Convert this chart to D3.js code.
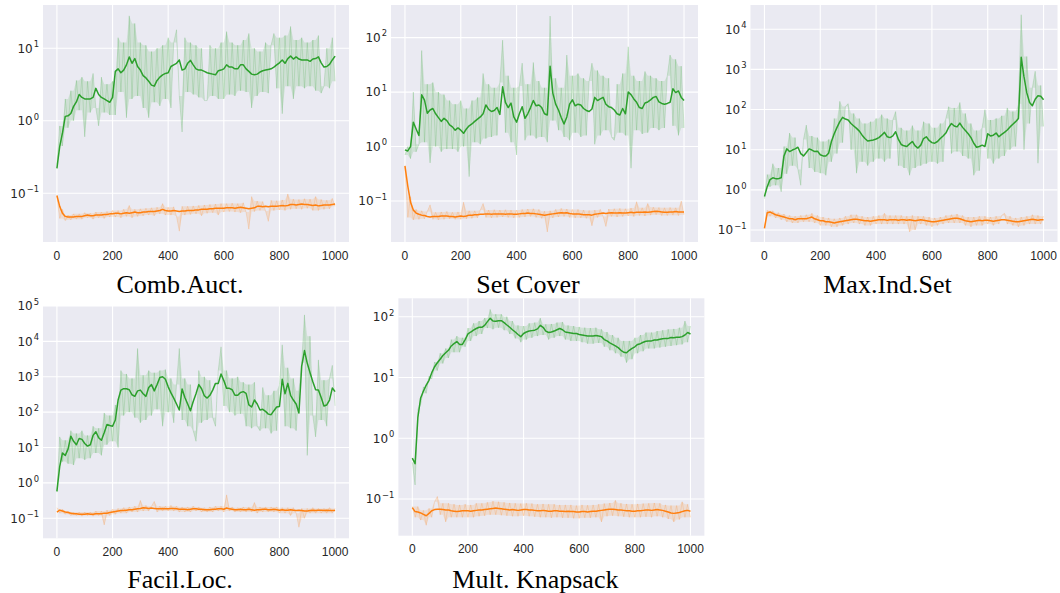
<html>
<head>
<script src="https://d3js.org/d3.v7.min.js" charset="utf-8"></script>
<style type="text/css">
body { margin: 0; background: #fff; }
</style>
</head>
<body>
<script type="text/javascript">
	var w = 1060;
	var h = 593;

	// training step of every sample (one sample each 10 steps)
	var steps = d3.range(0, 1001, 10);
	var xTicks = [0, 200, 400, 600, 800, 1000];

	// Comb.Auct.
	var combGreen = [0.22,0.44,0.68,1.15,1.17,1.26,1.58,1.82,2.3,2.1,
		2.0,2.0,2.0,2.1,2.8,2.3,2.1,2.0,1.9,1.8,
		2.1,4.8,5.2,4.6,5.0,5.9,7.6,6.2,7.2,5.6,
		5.0,4.2,3.9,3.5,3.1,3.0,3.6,4.0,4.3,4.5,
		4.6,5.6,5.9,6.2,6.9,5.0,5.2,6.2,6.8,5.9,
		5.2,5.0,5.0,4.8,4.6,4.5,4.4,4.3,4.9,5.0,
		5.2,5.9,5.5,5.5,5.2,5.2,5.9,5.9,5.2,4.8,
		4.4,4.3,4.4,4.7,4.9,5.0,5.1,5.2,5.5,5.9,
		6.3,6.9,6.2,7.2,7.8,7.1,7.6,7.1,6.9,6.9,
		6.9,6.6,7.1,7.2,7.6,6.3,5.5,5.6,6.0,6.9,
		7.8];
	var combGreenRaw = [0.25,0.85,0.45,2.0,0.8,2.6,1.0,3.6,1.4,4.0,
		0.6,3.5,1.3,4.5,1.5,0.85,4.0,1.3,3.2,1.2,
		3.5,1.2,14,2.5,12,1.1,28,2.0,22,2.2,
		12,1.5,11,1.1,9,1.8,10,1.6,11,2.0,
		14,1.5,12,18,2.2,0.7,14,2.5,12,2.3,
		11,2.1,10,1.9,1.9,11,2.2,10,2.0,12,
		2.0,17,2.3,12,2.2,11,2.6,13,2.5,16,
		1.5,10,2.2,9,2.5,12,2.4,11,16,2.8,
		14,1.25,15,3.0,20,2.0,13,3.0,14,2.8,
		12,3.0,13,2.6,15,2.4,3.0,10,2.8,14,
		3.5];
	var combOrange = [0.093,0.066,0.053,0.048,0.047,0.047,0.047,0.048,0.048,0.048,
		0.049,0.050,0.049,0.049,0.050,0.050,0.050,0.051,0.051,0.052,
		0.052,0.053,0.053,0.052,0.053,0.054,0.053,0.054,0.055,0.054,
		0.054,0.055,0.055,0.056,0.056,0.056,0.057,0.058,0.060,0.058,
		0.057,0.057,0.058,0.057,0.056,0.057,0.057,0.058,0.058,0.058,
		0.059,0.059,0.060,0.060,0.060,0.061,0.061,0.062,0.062,0.062,
		0.062,0.063,0.063,0.063,0.062,0.063,0.064,0.063,0.062,0.061,
		0.062,0.063,0.066,0.066,0.065,0.066,0.065,0.066,0.066,0.066,
		0.067,0.068,0.067,0.068,0.070,0.070,0.069,0.070,0.071,0.070,
		0.070,0.069,0.068,0.069,0.067,0.068,0.069,0.069,0.069,0.070,
		0.071];
	var combOrangeRaw = [0.09,0.045,0.06,0.042,0.05,0.043,0.052,0.044,0.052,0.044,
		0.054,0.046,0.053,0.044,0.055,0.046,0.055,0.045,0.056,0.047,
		0.058,0.047,0.058,0.046,0.06,0.048,0.068,0.046,0.06,0.048,
		0.061,0.049,0.062,0.05,0.063,0.049,0.064,0.052,0.072,0.05,
		0.064,0.05,0.065,0.048,0.03,0.066,0.05,0.066,0.051,0.067,
		0.052,0.068,0.049,0.069,0.053,0.07,0.054,0.071,0.05,0.072,
		0.055,0.072,0.056,0.073,0.055,0.072,0.054,0.074,0.055,0.032,
		0.09,0.056,0.078,0.058,0.077,0.057,0.041,0.08,0.058,0.079,
		0.059,0.081,0.058,0.098,0.06,0.083,0.061,0.082,0.06,0.084,
		0.062,0.083,0.058,0.09,0.058,0.082,0.06,0.08,0.061,0.085,
		0.066];

	// Set Cover
	var setcGreen = [0.87,0.83,1.0,2.8,2.1,1.6,8.9,7.1,4.1,4.7,
		5.0,4.0,3.4,2.9,3.3,3.0,2.5,2.3,2.0,2.2,
		2.0,1.75,2.1,2.4,2.6,2.9,3.2,3.5,4.0,5.8,
		4.8,4.4,4.6,5.2,3.9,12.5,6.5,5.2,6.3,3.5,
		2.8,4.0,5.4,3.3,4.0,5.2,7.0,5.6,5.8,5.2,
		4.0,3.8,30,9.5,6.0,4.7,3.4,2.6,3.5,6.0,
		7.2,5.6,6.0,5.8,5.0,4.6,4.4,4.9,8.0,7.0,
		7.5,8.0,6.0,5.4,5.2,4.7,4.0,3.8,5.0,4.0,
		10.0,9.0,7.5,6.5,5.2,5.0,6.3,6.6,7.2,8.0,
		8.3,6.6,6.2,6.0,6.2,6.5,11.5,9.8,10.5,8.0,
		7.0];
	var setcGreenRaw = [0.7,1.0,0.6,10,0.8,1.1,58,1.2,14,0.5,
		15,1.0,10,0.8,9,0.9,7,0.9,6,0.8,
		7,1.0,5,0.28,7,1.2,8,1.1,22,1.4,
		14,1.5,12,1.6,15,90,1.8,20,1.2,12,
		0.7,13,34,1.3,14,1.6,35,1.4,16,1.5,
		12,1.2,250,3.0,18,2.0,12,1.5,48,1.3,
		20,1.8,22,1.5,18,1.6,16,34,1.1,25,
		1.6,20,2.0,18,1.5,1.3,14,1.8,22,1.6,
		68,0.4,20,2.0,16,1.7,24,1.8,20,2.2,
		18,2.0,16,2.2,20,48,2.4,40,1.6,30,
		2.2];
	var setcOrange = [0.44,0.19,0.095,0.068,0.060,0.057,0.055,0.054,0.052,0.051,
		0.052,0.052,0.052,0.053,0.053,0.053,0.052,0.052,0.051,0.052,
		0.053,0.052,0.053,0.055,0.055,0.056,0.056,0.057,0.057,0.058,
		0.058,0.057,0.058,0.058,0.058,0.058,0.057,0.058,0.058,0.057,
		0.057,0.058,0.059,0.059,0.060,0.059,0.059,0.058,0.057,0.056,
		0.055,0.056,0.057,0.058,0.059,0.060,0.061,0.060,0.061,0.059,
		0.058,0.058,0.058,0.057,0.056,0.056,0.056,0.055,0.057,0.058,
		0.059,0.060,0.059,0.060,0.061,0.060,0.060,0.061,0.060,0.060,
		0.061,0.062,0.061,0.062,0.062,0.062,0.063,0.062,0.063,0.064,
		0.065,0.064,0.063,0.062,0.062,0.063,0.063,0.064,0.063,0.063,
		0.063];
	var setcOrangeRaw = [0.42,0.05,0.12,0.045,0.07,0.046,0.066,0.047,0.064,0.085,
		0.046,0.062,0.045,0.063,0.046,0.064,0.047,0.062,0.046,0.063,
		0.046,0.095,0.047,0.066,0.048,0.066,0.049,0.068,0.09,0.05,
		0.068,0.049,0.069,0.05,0.068,0.051,0.069,0.05,0.068,0.049,
		0.068,0.05,0.07,0.051,0.071,0.052,0.072,0.05,0.07,0.048,
		0.065,0.027,0.066,0.049,0.07,0.051,0.073,0.052,0.071,0.05,
		0.07,0.049,0.07,0.049,0.068,0.048,0.067,0.035,0.068,0.05,
		0.07,0.052,0.034,0.071,0.052,0.072,0.051,0.073,0.052,0.072,
		0.053,0.074,0.052,0.097,0.054,0.075,0.053,0.09,0.055,0.077,
		0.056,0.076,0.054,0.075,0.054,0.076,0.055,0.075,0.054,0.10,
		0.056];

	// Max.Ind.Set
	var misGreen = [0.68,1.2,1.8,2.0,1.9,1.9,2.0,7.0,10.5,9.0,
		9.8,10.5,11.5,8.0,7.0,8.5,10.5,9.8,9.0,9.2,
		7.5,7.0,7.0,8.2,16,25,36,50,64,58,
		55,45,39,34,29,23,19,16.5,17,17.5,
		18.5,20,23,27,21,20,22,28,18,13.5,
		12.5,12.0,14.0,16,12.5,11,13,19,21,17,
		15,14.5,16,19,22,26,36,45,39,37,
		46,36,30,25,20,14.5,11.5,12,13,12,
		25,22,23,26,21,24,27,31,37,43,
		50,60,2000,650,260,150,125,180,220,215,
		175];
	var misGreenRaw = [0.6,2.4,1.2,4.5,1.3,3.5,0.9,12,2.5,26,
		4.0,20,3.2,1.3,18,41,3.5,22,2.8,20,
		2.6,16,2.3,18,5.0,60,8,160,15,120,
		140,10,80,2.6,60,5,45,4,50,5,
		60,6,75,5,60,6,55,89,4,35,
		3.5,30,2.3,40,3.5,30,4,50,4.5,45,
		5,35,4.5,45,5,60,118,8,110,9,
		150,7,80,6,45,2.3,30,3,35,100,
		6,55,4.5,60,6,70,7,110,10,90,
		12,140,23000,10,2100,45,350,900,4.6,400,
		38];
	var misOrange = [0.11,0.27,0.28,0.26,0.24,0.23,0.22,0.21,0.20,0.19,
		0.19,0.18,0.19,0.19,0.19,0.19,0.20,0.21,0.19,0.18,
		0.17,0.17,0.16,0.16,0.155,0.15,0.155,0.16,0.165,0.17,
		0.175,0.18,0.185,0.185,0.18,0.175,0.17,0.17,0.165,0.17,
		0.175,0.18,0.18,0.18,0.175,0.18,0.18,0.18,0.175,0.18,
		0.18,0.175,0.18,0.175,0.17,0.175,0.18,0.175,0.17,0.165,
		0.16,0.16,0.165,0.17,0.175,0.18,0.185,0.19,0.195,0.195,
		0.19,0.18,0.17,0.165,0.16,0.165,0.17,0.175,0.17,0.175,
		0.175,0.17,0.165,0.17,0.175,0.18,0.18,0.175,0.17,0.165,
		0.16,0.16,0.165,0.17,0.175,0.18,0.185,0.18,0.175,0.18,
		0.18];
	var misOrangeRaw = [0.12,0.31,0.22,0.30,0.2,0.27,0.18,0.25,0.16,0.23,
		0.15,0.22,0.15,0.23,0.16,0.24,0.16,0.26,0.15,0.23,
		0.13,0.21,0.13,0.2,0.12,0.19,0.12,0.2,0.13,0.22,
		0.14,0.24,0.15,0.24,0.14,0.22,0.13,0.21,0.13,0.22,
		0.14,0.23,0.14,0.26,0.14,0.23,0.14,0.23,0.14,0.23,
		0.14,0.22,0.09,0.23,0.1,0.22,0.14,0.22,0.13,0.21,
		0.12,0.2,0.13,0.21,0.14,0.23,0.15,0.24,0.15,0.25,
		0.15,0.23,0.13,0.21,0.12,0.21,0.13,0.22,0.13,0.22,
		0.14,0.21,0.13,0.22,0.14,0.23,0.26,0.14,0.22,0.13,
		0.2,0.12,0.21,0.13,0.22,0.14,0.24,0.14,0.23,0.14,
		0.22];

	// Facil.Loc.
	var faclGreen = [0.58,2.9,7.0,6.0,9.0,21,15,12,18,17,
		13,11,12,22,28,19,16,26,45,42,
		40,60,220,420,460,460,430,310,280,400,
		420,330,280,500,600,400,600,950,1000,850,
		520,350,250,170,115,450,260,170,110,200,
		330,600,460,290,250,300,420,650,650,1200,
		780,470,470,430,300,300,360,380,340,160,
		140,220,170,115,120,105,88,85,110,140,
		145,850,330,650,300,220,170,95,2000,5500,
		2400,1300,720,430,420,260,150,160,220,480,
		380];
	var faclGreenRaw = [0.55,20,4,16,3.5,30,3.2,25,5,30,
		4.5,22,5,40,7,35,6,95,12,80,
		15,160,10,1500,80,1200,100,900,70,6300,
		50,1100,60,1500,80,1300,120,1500,40,1600,
		100,900,50,600,6300,60,900,40,600,30,
		15,1500,50,1000,60,800,70,40,1500,7000,
		150,1500,100,900,80,1000,90,700,40,600,
		35,700,40,30,500,35,300,25,400,30,
		600,8000,40,1800,35,900,30,400,2500,56000,
		6,14000,80,20,3000,60,800,40,900,2100,
		150];
	var faclOrange = [0.15,0.17,0.16,0.15,0.145,0.14,0.135,0.135,0.13,0.13,
		0.13,0.135,0.13,0.13,0.135,0.135,0.135,0.14,0.14,0.145,
		0.15,0.155,0.16,0.165,0.165,0.17,0.175,0.175,0.18,0.185,
		0.19,0.2,0.195,0.19,0.195,0.19,0.185,0.185,0.19,0.185,
		0.185,0.19,0.19,0.185,0.18,0.18,0.18,0.175,0.18,0.185,
		0.185,0.18,0.18,0.175,0.175,0.175,0.18,0.18,0.185,0.185,
		0.18,0.195,0.185,0.18,0.175,0.175,0.18,0.175,0.175,0.18,
		0.175,0.17,0.175,0.175,0.18,0.18,0.175,0.175,0.18,0.175,
		0.17,0.175,0.17,0.17,0.175,0.17,0.165,0.17,0.165,0.16,
		0.16,0.165,0.17,0.165,0.17,0.17,0.165,0.17,0.165,0.165,
		0.165];
	var faclOrangeRaw = [0.2,0.14,0.18,0.13,0.16,0.12,0.15,0.12,0.15,0.115,
		0.15,0.12,0.15,0.115,0.16,0.12,0.16,0.065,0.17,0.12,
		0.18,0.13,0.19,0.14,0.2,0.14,0.21,0.15,0.22,0.15,
		0.32,0.16,0.23,0.16,0.22,0.3,0.15,0.22,0.16,0.22,
		0.16,0.23,0.16,0.22,0.15,0.21,0.15,0.21,0.15,0.22,
		0.16,0.21,0.15,0.2,0.15,0.21,0.15,0.22,0.16,0.22,
		0.15,0.46,0.16,0.21,0.15,0.2,0.15,0.21,0.15,0.21,
		0.15,0.28,0.14,0.21,0.15,0.21,0.15,0.21,0.15,0.21,
		0.14,0.2,0.14,0.2,0.12,0.2,0.14,0.056,0.19,0.1,
		0.19,0.14,0.2,0.14,0.19,0.14,0.19,0.14,0.2,0.14,
		0.19];

	// Mult. Knapsack
	var knapGreen = [0.47,0.38,2.2,4.6,6.0,7.5,9.0,12,15,17.5,
		20,23,25.5,28,33,36,39,35,35,42,
		52,56,60,64,67,67,72,83,94,85,
		84,86,86,80,73,67,61,56,51,47,
		53,56,58,59,60,63,72,67,58,55,
		56,58,61,64,61,56,55,54,53,53,
		51,50,49,48,48,48,49,48,47,42,
		40,37,35,33,31,28,26,25.5,28,30,
		32,35,36,38,39.5,40,40,41.5,41.5,42.5,
		43.5,44,44,45.5,45,46,46,47,50,55,
		52];
	var knapGreenRaw = [0.4,0.17,3.0,3.6,7.0,5.5,10.5,9.5,18,13,
		25,17,30,21,42,26,48,26,45,32,
		65,40,78,48,85,52,95,65,132,62,
		110,66,110,60,100,52,85,44,72,38,
		70,42,78,45,80,48,95,50,75,42,
		76,45,80,48,82,42,72,40,70,40,
		68,38,66,36,65,36,66,37,62,32,
		56,28,50,25,45,22,40,17.5,40,20,
		45,25,50,27,55,30,55,30,58,31,
		60,32,62,33,63,34,66,35,85,38,
		70];
	var knapOrange = [0.072,0.062,0.061,0.059,0.056,0.053,0.058,0.064,0.067,0.068,
		0.068,0.067,0.066,0.066,0.064,0.063,0.062,0.063,0.064,0.064,
		0.064,0.063,0.064,0.065,0.066,0.066,0.067,0.068,0.069,0.070,
		0.071,0.070,0.069,0.068,0.067,0.066,0.067,0.066,0.065,0.066,
		0.067,0.067,0.066,0.066,0.065,0.064,0.064,0.065,0.064,0.063,
		0.063,0.064,0.064,0.063,0.063,0.062,0.063,0.062,0.062,0.061,
		0.061,0.062,0.062,0.061,0.062,0.063,0.063,0.064,0.065,0.066,
		0.067,0.068,0.068,0.067,0.066,0.066,0.065,0.064,0.064,0.063,
		0.063,0.064,0.064,0.065,0.066,0.066,0.065,0.066,0.067,0.066,
		0.065,0.063,0.061,0.059,0.058,0.059,0.060,0.062,0.064,0.065,
		0.063];
	var knapOrangeRaw = [0.075,0.05,0.075,0.045,0.065,0.037,0.07,0.05,0.09,0.11,
		0.055,0.085,0.042,0.085,0.05,0.082,0.05,0.08,0.05,0.082,
		0.05,0.08,0.05,0.085,0.052,0.085,0.053,0.088,0.055,0.092,
		0.055,0.09,0.054,0.088,0.053,0.086,0.052,0.085,0.052,0.084,
		0.053,0.085,0.052,0.084,0.051,0.082,0.05,0.083,0.05,0.082,
		0.049,0.082,0.05,0.08,0.049,0.08,0.049,0.08,0.048,0.078,
		0.048,0.08,0.049,0.079,0.049,0.08,0.05,0.082,0.042,0.084,
		0.052,0.086,0.053,0.095,0.052,0.085,0.051,0.083,0.05,0.082,
		0.05,0.083,0.05,0.084,0.051,0.085,0.05,0.086,0.052,0.085,
		0.05,0.08,0.047,0.078,0.042,0.078,0.046,0.09,0.05,0.082,
		0.05];

	// layout of the five subplots (pixels) and their log y-limits
	var panels = [
		{title: "Comb.Auct.", left: 43, top: 5, width: 306, height: 237,
			yDomain: [0.02128, 39.5], yTicks: [0.1, 1, 10],
			green: combGreen, greenRaw: combGreenRaw, orange: combOrange, orangeRaw: combOrangeRaw},
		{title: "Set Cover", left: 391, top: 5, width: 307, height: 237,
			yDomain: [0.01766, 398], yTicks: [0.1, 1, 10, 100],
			green: setcGreen, greenRaw: setcGreenRaw, orange: setcOrange, orangeRaw: setcOrangeRaw},
		{title: "Max.Ind.Set", left: 750.5, top: 5, width: 307, height: 237,
			yDomain: [0.0502, 40270], yTicks: [0.1, 1, 10, 100, 1000, 10000],
			green: misGreen, greenRaw: misGreenRaw, orange: misOrange, orangeRaw: misOrangeRaw},
		{title: "Facil.Loc.", left: 43, top: 306, width: 306, height: 232.3,
			yDomain: [0.02723, 100000], yTicks: [0.1, 1, 10, 100, 1000, 10000, 100000],
			green: faclGreen, greenRaw: faclGreenRaw, orange: faclOrange, orangeRaw: faclOrangeRaw},
		{title: "Mult. Knapsack", left: 398.4, top: 298.3, width: 306, height: 237.4,
			yDomain: [0.02489, 200.9], yTicks: [0.1, 1, 10, 100],
			green: knapGreen, greenRaw: knapGreenRaw, orange: knapOrange, orangeRaw: knapOrangeRaw}
	];

	var green = "#2ca02c";
	var orange = "#ff7f0e";

	var svg = d3.select("body")
		.append("svg")
		.attr("width", w)
		.attr("height", h);

	panels.forEach(function(p, i) { drawPanel(p, i); });

	// lower / upper edge of the noisy raw curve at every sample
	function band(raw) {
		return raw.map(function(v, k) {
			var a = raw[Math.max(k - 1, 0)], b = raw[Math.min(k + 1, raw.length - 1)];
			return [Math.max(Math.min(a, v), Math.min(v, b)), Math.min(Math.max(a, v), Math.max(v, b))];
		});
	}

	function drawPanel(p, i) {
		var x = d3.scaleLinear().domain([-50, 1050]).range([p.left, p.left + p.width]);
		var y = d3.scaleLog().domain(p.yDomain).range([p.top + p.height, p.top]);
		var g = svg.append("g");

		g.append("rect")
			.attr("x", p.left).attr("y", p.top)
			.attr("width", p.width).attr("height", p.height)
			.attr("fill", "#eaeaf2");

		g.selectAll(".vgrid").data(xTicks).enter().append("line")
			.attr("x1", function(d) { return x(d); }).attr("x2", function(d) { return x(d); })
			.attr("y1", p.top).attr("y2", p.top + p.height)
			.attr("stroke", "#fff").attr("stroke-width", 1.1);
		g.selectAll(".hgrid").data(p.yTicks).enter().append("line")
			.attr("x1", p.left).attr("x2", p.left + p.width)
			.attr("y1", function(d) { return y(d); }).attr("y2", function(d) { return y(d); })
			.attr("stroke", "#fff").attr("stroke-width", 1.1);

		svg.append("clipPath").attr("id", "clip" + i)
			.append("rect")
			.attr("x", p.left).attr("y", p.top)
			.attr("width", p.width).attr("height", p.height);

		var line = d3.line()
			.x(function(d, k) { return x(steps[k]); })
			.y(function(d) { return y(d); });
		var area = d3.area()
			.x(function(d, k) { return x(steps[k]); })
			.y0(function(d) { return y(d[0]); })
			.y1(function(d) { return y(d[1]); });

		var lines = g.append("g").attr("clip-path", "url(#clip" + i + ")");
		[[p.greenRaw, green], [p.orangeRaw, orange]].forEach(function(r) {
			lines.append("path").datum(band(r[0])).attr("d", area)
				.attr("fill", r[1]).attr("fill-opacity", 0.14).attr("stroke", "none");
			lines.append("path").datum(r[0]).attr("d", line)
				.attr("fill", "none").attr("stroke", r[1]).attr("stroke-opacity", 0.2).attr("stroke-width", 0.9);
		});
		lines.append("path").datum(p.green).attr("d", line)
			.attr("fill", "none").attr("stroke", green).attr("stroke-width", 1.5)
			.attr("stroke-linejoin", "round");
		lines.append("path").datum(p.orange).attr("d", line)
			.attr("fill", "none").attr("stroke", orange).attr("stroke-width", 1.5)
			.attr("stroke-linejoin", "round");

		// x tick labels
		g.selectAll(".xt").data(xTicks).enter().append("text")
			.text(function(d) { return d; })
			.attr("x", function(d) { return x(d); })
			.attr("y", p.top + p.height + 17.5)
			.attr("text-anchor", "middle")
			.attr("font-family", "'Liberation Sans', Arial, sans-serif")
			.attr("font-size", 12)
			.attr("fill", "#262626");

		// y tick labels as 10^k
		p.yTicks.forEach(function(t) {
			var e = Math.round(Math.log10(t));
			var lab = g.append("text")
				.attr("x", p.left - 4)
				.attr("y", y(t) + 4.3)
				.attr("text-anchor", "end")
				.attr("font-family", "'DejaVu Sans', sans-serif")
				.attr("font-size", 12)
				.attr("fill", "#262626");
			lab.append("tspan").text("10");
			lab.append("tspan").attr("dx", 1).attr("dy", -5.5).attr("font-size", 8.4)
				.text(e < 0 ? "\u2212" + (-e) : e);
		});

		g.append("text")
			.text(p.title)
			.attr("x", p.left + 137)
			.attr("y", i < 3 ? 292.5 : 588)
			.attr("text-anchor", "middle")
			.attr("font-family", "'Liberation Serif', 'Times New Roman', serif")
			.attr("font-size", 26)
			.attr("fill", "#000");
	}
</script>
</body>
</html>
